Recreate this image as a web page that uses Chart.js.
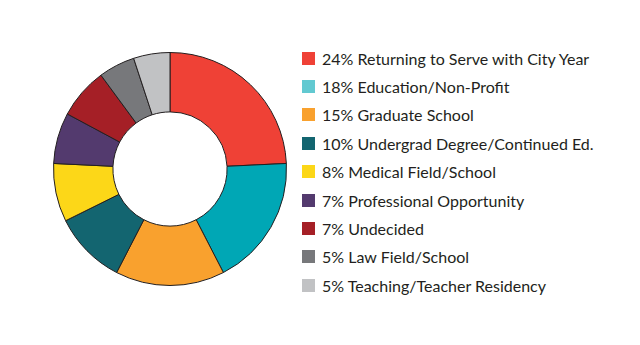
<!DOCTYPE html>
<html>
<head>
<meta charset="utf-8">
<script src="https://cdn.jsdelivr.net/npm/chart.js@4"></script>
<style>
  html, body { margin: 0; padding: 0; background: #fff; }
  #wrap { position: relative; width: 640px; height: 345px; overflow: hidden; }
  #chartBox { position: absolute; left: 53px; top: 52px; width: 234px; height: 234px; }
  #legend { position: absolute; left: 302px; top: 44px; margin: 0; padding: 0; list-style: none;
            font-family: "Lato", "Noto Sans", sans-serif; font-size: 16px; color: #231f20; }
  #legend li { height: 28.4px; display: flex; align-items: center; white-space: nowrap; }
  #legend .sw { width: 13px; height: 13px; margin-right: 7px; flex: none; }
</style>
</head>
<body>
<div id="wrap">
  <div id="chartBox"><canvas id="pieChart"></canvas></div>
  <ul id="legend"></ul>
</div>
<script>
const categories = ['Returning to Serve with City Year', 'Education/Non-Profit', 'Graduate School',
    'Undergrad Degree/Continued Ed.', 'Medical Field/School', 'Professional Opportunity',
    'Undecided', 'Law Field/School', 'Teaching/Teacher Residency'];
const percents = [24, 18, 15, 10, 8, 7, 7, 5, 5];
const sliceColors = ['#ef4136', '#00a7b5', '#f9a12e', '#136570', '#fcd718', '#533a6e', '#a51f26', '#77787b', '#c1c2c4'];
const legendColors = ['#ef4136', '#62c9d1', '#f9a12e', '#136570', '#fcd718', '#533a6e', '#a51f26', '#77787b', '#c1c2c4'];

document.addEventListener("DOMContentLoaded", function () {
    const pieCtx = document.getElementById('pieChart').getContext('2d');

    new Chart(pieCtx, {
        type: 'doughnut',
        data: {
            labels: categories,
            datasets: [{
                data: percents,
                backgroundColor: sliceColors,
                borderColor: '#231f20',
                borderWidth: 1
            }]
        },
        options: {
            responsive: true,
            maintainAspectRatio: false,
            animation: false,
            cutout: '49%',
            layout: { padding: 0 },
            plugins: {
                legend: { display: false },
                tooltip: { enabled: false }
            }
        }
    });

    // legend on the right
    const legend = document.getElementById('legend');
    categories.forEach((name, i) => {
        const li = document.createElement('li');
        li.innerHTML = '<span class="sw" style="background:' + legendColors[i] + '"></span>' +
            percents[i] + '% ' + name;
        legend.appendChild(li);
    });
});
</script>
</body>
</html>
